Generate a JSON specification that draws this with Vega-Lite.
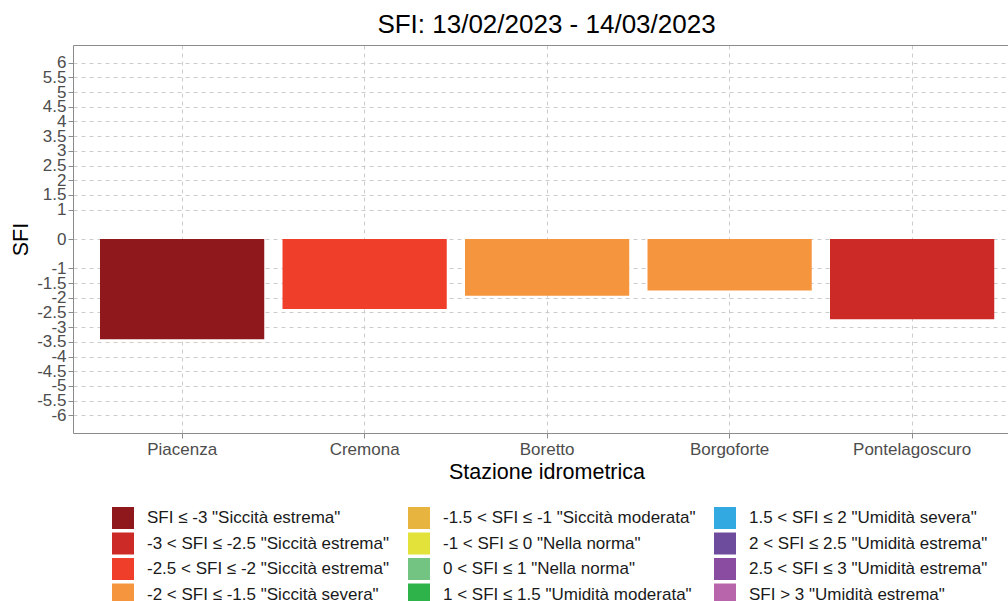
{
  "$schema": "https://vega.github.io/schema/vega-lite/v6.json",
  "autosize": {"type": "none"},
  "padding": {"left": 73, "top": 45, "right": 0, "bottom": 168},
  "width": 935,
  "height": 388,
  "background": "white",
  "config": {"font": "Liberation Sans", "view": {"stroke": null}},
  "title": {"text": "SFI: 13/02/2023 - 14/03/2023", "fontSize": 26, "fontWeight": "normal", "color": "#000000", "anchor": "middle", "baseline": "alphabetic", "offset": 13, "dy": 27, "dx": 6, "font": "Liberation Sans"},
  "data": {"values": [
    {"stazione": "Piacenza", "sfi": -3.41, "classe": "SFI ≤ -3 \"Siccità estrema\""},
    {"stazione": "Cremona", "sfi": -2.38, "classe": "-2.5 < SFI ≤ -2 \"Siccità estrema\""},
    {"stazione": "Boretto", "sfi": -1.93, "classe": "-2 < SFI ≤ -1.5 \"Siccità severa\""},
    {"stazione": "Borgoforte", "sfi": -1.75, "classe": "-2 < SFI ≤ -1.5 \"Siccità severa\""},
    {"stazione": "Pontelagoscuro", "sfi": -2.73, "classe": "-3 < SFI ≤ -2.5 \"Siccità estrema\""}
  ]},
  "layer": [
    {
      "mark": {"type": "bar"},
      "encoding": {
        "x": {"field": "stazione", "type": "nominal", "sort": null,
          "scale": {"paddingInner": 0.1, "paddingOuter": 0.1116, "align": 0.6626},
          "axis": {"orient": "bottom", "labelAngle": 0, "labelFontSize": 17, "labelColor": "#4d4d4d", "tickSize": 5, "tickColor": "#8c8c8c", "labelPadding": 3, "grid": true, "gridDash": [4, 4], "gridColor": "#cccccc", "bandPosition": 0.5, "domainColor": "#8c8c8c", "title": "Stazione idrometrica", "titleFontSize": 21.5, "titleFontWeight": "normal", "titleColor": "#000000", "titleX": 473.5, "titleY": 45, "titleBaseline": "alphabetic", "titleAlign": "center"}},
        "y": {"field": "sfi", "type": "quantitative",
          "scale": {"domain": [-6.6, 6.6], "nice": false, "zero": false},
          "axis": {"values": [-6, -5.5, -5, -4.5, -4, -3.5, -3, -2.5, -2, -1.5, -1, 0, 1, 1.5, 2, 2.5, 3, 3.5, 4, 4.5, 5, 5.5, 6], "labelExpr": "'' + datum.value", "labelFontSize": 17, "labelColor": "#4d4d4d", "tickSize": 5, "tickColor": "#8c8c8c", "labelPadding": 2, "labelOverlap": false, "domainColor": "#8c8c8c", "grid": true, "gridDash": [4, 4], "gridColor": "#cccccc", "title": "SFI", "titleFontSize": 21.5, "titleFontWeight": "normal", "titleColor": "#000000", "titleX": -46, "titleY": 194, "titleAngle": 270, "titleBaseline": "alphabetic", "titleAlign": "center"}},
        "color": {"field": "classe", "type": "nominal",
          "scale": {
            "domain": ["SFI ≤ -3 \"Siccità estrema\"", "-3 < SFI ≤ -2.5 \"Siccità estrema\"", "-2.5 < SFI ≤ -2 \"Siccità estrema\"", "-2 < SFI ≤ -1.5 \"Siccità severa\"", "-1.5 < SFI ≤ -1 \"Siccità moderata\"", "-1 < SFI ≤ 0 \"Nella norma\"", "0 < SFI ≤ 1 \"Nella norma\"", "1 < SFI ≤ 1.5 \"Umidità moderata\"", "1.5 < SFI ≤ 2 \"Umidità severa\"", "2 < SFI ≤ 2.5 \"Umidità estrema\"", "2.5 < SFI ≤ 3 \"Umidità estrema\"", "SFI > 3 \"Umidità estrema\""],
            "range": ["#8f181d", "#cc2a27", "#ef3f2b", "#f5963f", "#e8b440", "#e2e23a", "#73c383", "#2eb34b", "#32a9e0", "#6d4c9e", "#894ca0", "#b865ab"]
          },
          "legend": {"orient": "none", "legendX": 39, "legendY": 462, "columns": 3, "title": null, "symbolType": "square", "symbolSize": 484, "symbolStrokeWidth": 0, "labelFontSize": 17, "labelColor": "#1a1a1a", "labelLimit": 500, "labelOffset": 13, "columnPadding": 18, "rowPadding": 3.5, "padding": 0}}
      }
    },
    {
      "mark": {"type": "bar", "opacity": 0},
      "encoding": {
        "x": {"field": "stazione", "type": "nominal", "sort": null,
          "axis": {"orient": "top", "labels": false, "ticks": false, "grid": false, "domain": true, "domainColor": "#8c8c8c", "title": null}}
      }
    }
  ],
  "resolve": {"axis": {"x": "independent"}}
}
